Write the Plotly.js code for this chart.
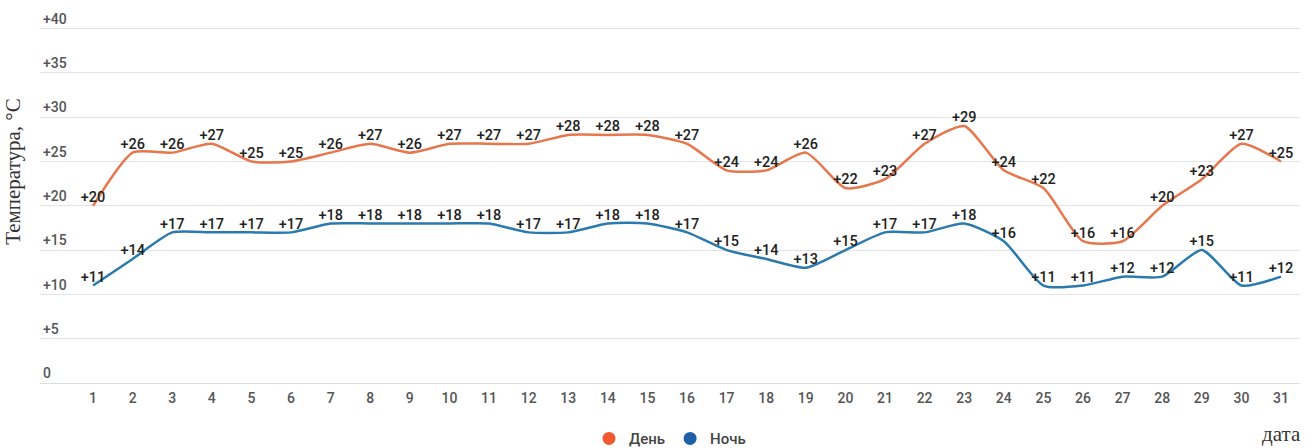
<!DOCTYPE html>
<html><head><meta charset="utf-8">
<script src="https://cdn.plot.ly/plotly-3.0.1.min.js"></script>
<style>html,body{margin:0;padding:0;background:#fff}#chart{width:1316px;height:448px}</style>
</head><body><div id="chart"></div>
<script>
const days = [1,2,3,4,5,6,7,8,9,10,11,12,13,14,15,16,17,18,19,20,21,22,23,24,25,26,27,28,29,30,31];
const dayTemps = [20,26,26,27,25,25,26,27,26,27,27,27,28,28,28,27,24,24,26,22,23,27,29,24,22,16,16,20,23,27,25];
const nightTemps = [11,14,17,17,17,17,18,18,18,18,18,17,17,18,18,17,15,14,13,15,17,17,18,16,11,11,12,12,15,11,12];
const yTicks = [0,5,10,15,20,25,30,35,40];
const yTickLabels = yTicks.map(v => v === 0 ? '0' : '+' + v);
const seriesNames = ['День', 'Ночь'];
const fmt = v => (v > 0 ? '+' : '') + v;

const textFont = {family: 'Roboto, sans-serif', size: 14.5, color: '#222', weight: 500};
const traces = [
  {x: days, y: dayTemps, mode: 'lines+text', text: dayTemps.map(fmt), textposition: 'top center',
   textfont: textFont, line: {color: '#E8764D', width: 2.5, shape: 'spline', smoothing: 0.6},
   showlegend: false, hoverinfo: 'x+y'},
  {x: days, y: nightTemps, mode: 'lines+text', text: nightTemps.map(fmt), textposition: 'top center',
   textfont: textFont, line: {color: '#2A7AAE', width: 2.5, shape: 'spline', smoothing: 0.6},
   showlegend: false, hoverinfo: 'x+y'},
  {x: [null], y: [null], mode: 'markers', name: seriesNames[0], marker: {color: '#F05A30', size: 13}},
  {x: [null], y: [null], mode: 'markers', name: seriesNames[1], marker: {color: '#1E5FA8', size: 13}}
];

const layout = {
  width: 1316, height: 448,
  margin: {l: 40, r: 16, t: 2, b: 65, autoexpand: false},
  paper_bgcolor: '#fff', plot_bgcolor: '#fff',
  xaxis: {range: [-0.34, 31.48], tickmode: 'array', tickvals: days, ticktext: days.map(String),
    showgrid: false, zeroline: false, showline: false, ticks: '', automargin: false, ticklabelstandoff: 5,
    tickfont: {family: 'Roboto, sans-serif', size: 14, color: '#555', weight: 500}},
  yaxis: {range: [0, 43], tickmode: 'array', tickvals: yTicks, ticktext: yTickLabels,
    showgrid: true, gridcolor: '#e3e3e3', gridwidth: 1, zeroline: true, zerolinecolor: '#dedede',
    ticklabelposition: 'inside top', ticks: '', automargin: false,
    tickfont: {family: 'Roboto, sans-serif', size: 14, color: '#555', weight: 500}},
  showlegend: true,
  legend: {orientation: 'h', x: 0.5, xanchor: 'center', y: -0.146, yanchor: 'middle',
    font: {family: 'Roboto, sans-serif', size: 15, color: '#444', weight: 500}, itemwidth: 30},
  annotations: [
    {text: 'Температура, °C', textangle: -90, xref: 'paper', yref: 'paper', x: -0.022, y: 0.555,
     xanchor: 'center', yanchor: 'middle', showarrow: false,
     font: {family: 'Liberation Serif, serif', size: 21, color: '#333'}},
    {text: 'дата', xref: 'paper', yref: 'paper', x: 0.985, y: -0.135, xanchor: 'center', yanchor: 'middle',
     showarrow: false, font: {family: 'Liberation Serif, serif', size: 21, color: '#333'}}
  ]
};
Plotly.newPlot('chart', traces, layout, {displayModeBar: false, responsive: false});
</script></body></html>
